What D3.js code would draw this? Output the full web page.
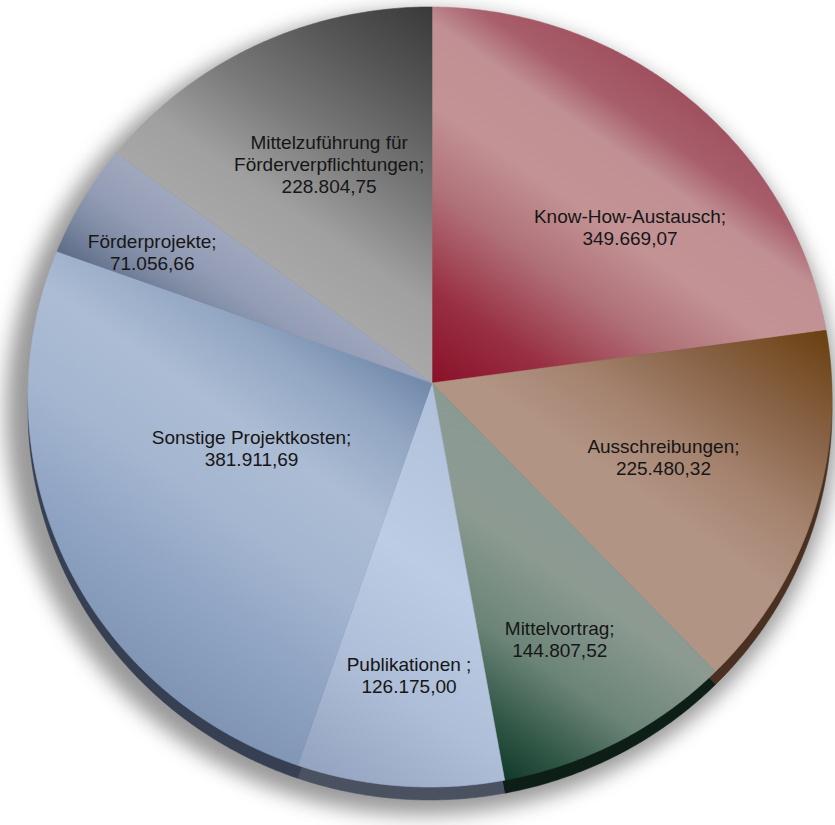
<!DOCTYPE html>
<html>
<head>
<meta charset="utf-8">
<script src="https://cdn.jsdelivr.net/npm/d3@7"></script>
<style>
  body { margin: 0; background: #fff; }
  svg text { font-family: "Liberation Sans", Arial, sans-serif; }
</style>
</head>
<body>
<div id="chart"></div>
<script>
// Daten (Werte in EUR)
const labels = [
  'Know-How-Austausch;',
  'Ausschreibungen;',
  'Mittelvortrag;',
  'Publikationen ;',
  'Sonstige Projektkosten;',
  'Förderprojekte;',
  'Mittelzuführung für\nFörderverpflichtungen;'
];
const values = [349669.07, 225480.32, 144807.52, 126175.00, 381911.69, 71056.66, 228804.75];

// Farbverläufe pro Segment (Stop-Offset, Farbe) und Randfarbe
const gradStops = [
  [[0, '#8a1028'], [0.2, '#982f42'], [0.42, '#b07078'], [0.6, '#c29294'], [0.78, '#c09094'], [0.88, '#a85e6c'], [1, '#a0505f']],
  [[0, '#b09484'], [0.3, '#b29484'], [0.5, '#a4826e'], [0.72, '#8a6448'], [1, '#6a4010']],
  [[0, '#123a2a'], [0.15, '#2e5444'], [0.4, '#6a8476'], [0.7, '#8c9a92'], [1, '#8a9a92']],
  [[0, '#94a4c0'], [0.3, '#aebed8'], [0.6, '#bccce4'], [1, '#b0c0da']],
  [[0, '#8094b4'], [0.2, '#8ea2c2'], [0.45, '#a4b6d0'], [0.65, '#acbcd4'], [0.85, '#92a6c2'], [1, '#7088aa']],
  [[0, '#5e6c88'], [0.3, '#7c88a2'], [0.6, '#929cb4'], [1, '#a0a8be']],
  [[0, '#a8a8a8'], [0.2, '#a0a0a0'], [0.45, '#7a7a7a'], [0.75, '#555555'], [1, '#3a3a3a']]
];
const rimColors = ['#5a1020', '#4a3020', '#0c1e16', '#4a5262', '#364052', '#3a4258', '#333333'];

// Beschriftung: Winkelkorrektur (Grad) und Abstand vom Mittelpunkt
const labelShift = [10.6, -1.2, 0.9, 0, 5.7, -2.6, 1.8];
const labelDist = [252, 243, 286, 293, 192, 309, 242];

const width = 835, height = 825;

// Ellipse der Oberfläche und Spitze (leicht perspektivisch)
const ell = { cx: 430, cy: 397, rx: 402, ry: 390 };
const apex = [432, 383];
const depth = 13;

const fmt = d3.formatLocale({ decimal: ',', thousands: '.', grouping: [3], currency: ['', ' €'] }).format(',.2f');

const svg = d3.select('#chart')
  .append('svg')
  .attr('width', width)
  .attr('height', height);

const defs = svg.append('defs');

defs.append('filter')
  .attr('id', 'shadow')
  .attr('x', '-20%').attr('y', '-20%').attr('width', '140%').attr('height', '140%')
  .append('feGaussianBlur')
  .attr('stdDeviation', 10);

const pie = d3.pie().sort(null).value(d => d);
const arcs = pie(values);

// Schnittpunkt eines Strahls von der Spitze mit der Ellipse
function edgePoint(a) {
  const dx = Math.sin(a), dy = -Math.cos(a);
  const ox = (apex[0] - ell.cx) / ell.rx, oy = (apex[1] - ell.cy) / ell.ry;
  const ux = dx / ell.rx, uy = dy / ell.ry;
  const A = ux * ux + uy * uy, B = 2 * (ox * ux + oy * uy), C = ox * ox + oy * oy - 1;
  const t = (-B + Math.sqrt(B * B - 4 * A * C)) / (2 * A);
  return [apex[0] + t * dx, apex[1] + t * dy];
}

function slicePoints(d) {
  const n = Math.max(4, Math.ceil((d.endAngle - d.startAngle) / 0.008));
  const pts = [apex];
  d3.range(n + 1).forEach(i => {
    pts.push(edgePoint(d.startAngle + (d.endAngle - d.startAngle) * i / n));
  });
  return pts;
}

const line = d3.line().curve(d3.curveLinearClosed);

// Gradienten entlang einer gemeinsamen Diagonale
const axis = [0.57, -0.82];
arcs.forEach((d, i) => {
  const pts = slicePoints(d);
  const proj = pts.map(p => p[0] * axis[0] + p[1] * axis[1]);
  const pmin = d3.min(proj), pmax = d3.max(proj);
  const g = defs.append('linearGradient')
    .attr('id', 'grad' + i)
    .attr('gradientUnits', 'userSpaceOnUse')
    .attr('x1', axis[0] * pmin).attr('y1', axis[1] * pmin)
    .attr('x2', axis[0] * pmax).attr('y2', axis[1] * pmax);
  g.selectAll('stop')
    .data(gradStops[i])
    .join('stop')
    .attr('offset', s => s[0])
    .attr('stop-color', s => s[1]);
});

// Schatten
svg.append('ellipse')
  .attr('cx', ell.cx - 8)
  .attr('cy', ell.cy + 16)
  .attr('rx', ell.rx + 14)
  .attr('ry', ell.ry + 12)
  .attr('fill', '#6e6e6e')
  .attr('opacity', 0.7)
  .attr('filter', 'url(#shadow)');

// Seitenrand
svg.append('g')
  .attr('transform', `translate(0,${depth})`)
  .selectAll('path')
  .data(arcs)
  .join('path')
  .attr('d', d => line(slicePoints(d)))
  .attr('fill', (d, i) => rimColors[i])
  .attr('stroke', (d, i) => rimColors[i])
  .attr('stroke-width', 0.5);

// Oberfläche
svg.append('g')
  .selectAll('path')
  .data(arcs)
  .join('path')
  .attr('d', d => line(slicePoints(d)))
  .attr('fill', (d, i) => `url(#grad${i})`)
  .attr('stroke', (d, i) => `url(#grad${i})`)
  .attr('stroke-width', 0.6);

// Beschriftungen
const lab = svg.append('g')
  .selectAll('text')
  .data(arcs)
  .join('text')
  .attr('text-anchor', 'middle')
  .attr('font-size', 19)
  .attr('fill', '#161616')
  .attr('transform', (d, i) => {
    const a = (d.startAngle + d.endAngle) / 2 + labelShift[i] * Math.PI / 180;
    const x = apex[0] + Math.sin(a) * labelDist[i];
    const y = apex[1] - Math.cos(a) * labelDist[i];
    return `translate(${x},${y})`;
  });

lab.each(function (d, i) {
  const lines = labels[i].split('\n').concat([fmt(d.data)]);
  const lh = 22;
  const y0 = -((lines.length - 1) * lh) / 2 + 7;
  d3.select(this).selectAll('tspan')
    .data(lines)
    .join('tspan')
    .attr('x', 0)
    .attr('y', (l, k) => y0 + k * lh)
    .text(l => l);
});
</script>
</body>
</html>
